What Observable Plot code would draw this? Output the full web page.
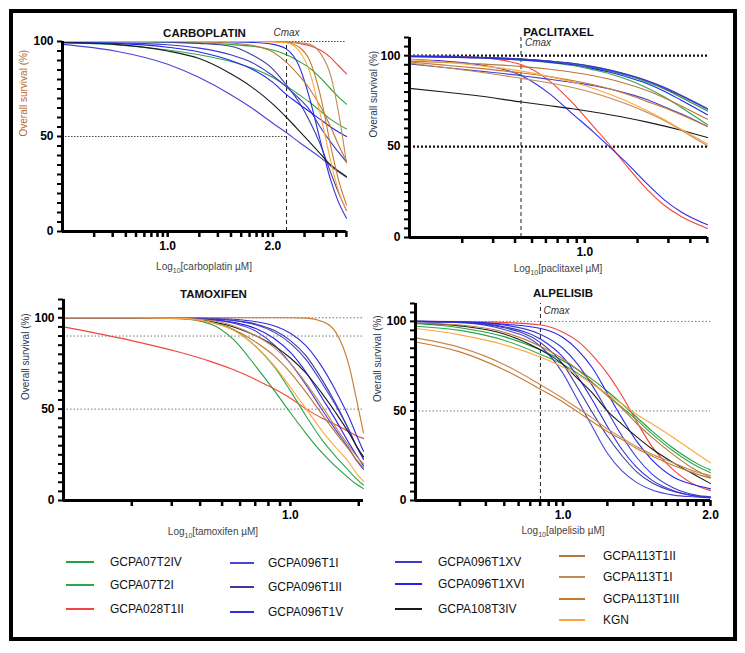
<!DOCTYPE html>
<html><head><meta charset="utf-8">
<script src="https://cdn.jsdelivr.net/npm/d3@7"></script>
<script src="https://cdn.jsdelivr.net/npm/@observablehq/plot@0.6"></script>
<style>
body{margin:0;background:#fff;font-family:"Liberation Sans",Arial,Helvetica,sans-serif;}
#wrap{position:relative;width:745px;height:653px;overflow:hidden;background:#fff;}
#frame{position:absolute;left:9px;top:9px;width:728px;height:632px;border:4px solid #000;box-sizing:border-box;}
.panel{position:absolute;}
.xlab{position:absolute;font-size:10px;color:#444;transform:translate(-50%,-50%);white-space:nowrap;}
.xlab sub{font-size:7px;}
.legline{position:absolute;}
.legtext{position:absolute;font-size:12px;color:#111;transform:translateY(-50%);white-space:nowrap;line-height:14px;}
</style></head>
<body><div id="wrap"><div id="frame"></div></div>
<script>
// ---------------- data ----------------
const series = ["GCPA07T2IV","GCPA07T2I","GCPA028T1II","GCPA096T1I","GCPA096T1II","GCPA096T1V","GCPA096T1XV","GCPA096T1XVI","GCPA108T3IV","GCPA113T1II","GCPA113T1I","GCPA113T1III","KGN"];
const colors = ["#22a03a","#2ea84c","#f2453d","#4a44d8","#3c3a9e","#2f2fe0","#3a3ad0","#2424ec","#1a1a1a","#b9763a","#c48a55","#c67a2e","#ffa640"];

// CARBOPLATIN (log10 µM)
const carboX = [0, 0.5, 1.0, 1.3, 1.6, 1.8, 2.0, 2.13, 2.25, 2.35, 2.45, 2.55, 2.62, 2.7];
const carboY = [
  [100, 100, 99.6, 99.2, 98.4, 97.5, 95.5, 93, 89.5, 86, 81, 75, 71, 67],
  [99.3, 98.3, 95.5, 93, 89.5, 86, 81, 76.5, 72, 68, 63.5, 59, 56.5, 54],
  [100, 100, 100, 100, 100, 100, 99.9, 99.7, 99, 97.8, 95.5, 91.5, 87.5, 83],
  [98.5, 95, 88, 81, 72, 65, 57, 52, 47, 43, 39, 34.5, 31.5, 28.5],
  [100, 100, 99.6, 99, 97.5, 93, 85.5, 77, 68, 58, 46, 31, 21, 11],
  [100, 100, 100, 100, 99.8, 99.5, 98.5, 96, 87, 70, 48, 27, 16, 7],
  [99.5, 99.3, 98.3, 96.5, 93, 89, 82, 76, 70, 64, 55, 47, 42, 36.5],
  [99.5, 99, 97, 94.5, 90, 85.5, 78.5, 72, 67, 63, 59, 55, 52.5, 50],
  [99.5, 98.5, 95, 91, 83, 76, 67, 60, 53, 47, 41, 35, 32, 29],
  [100, 100, 100, 99.8, 99.2, 98, 94.5, 89, 82, 75, 66, 55, 46, 37],
  [100, 100, 100, 100, 100, 100, 100, 99.8, 99.3, 98.5, 94, 82, 64, 36],
  [100, 100, 100, 100, 100, 100, 100, 99.5, 97, 90, 72, 45, 28, 14],
  [100, 100, 100, 100, 100, 100, 99.8, 99.3, 95, 84, 62, 37, 22, 11]
];
const carboCmax = 2.13;

// PACLITAXEL
const pacliX = [0, 0.2, 0.4, 0.64, 0.8, 0.93, 1.05, 1.15, 1.25, 1.35, 1.45, 1.55, 1.7];
const pacliY = [
  [99.7, 99.4, 99, 98, 96.8, 95.3, 93.3, 91.3, 88.8, 85.7, 81.8, 77, 69.5],
  [99.6, 99.3, 98.8, 97.5, 96.2, 94.6, 92.2, 89.8, 86.6, 82.5, 77.5, 71.5, 62],
  [100, 99.8, 99, 95, 86, 74, 61, 50, 38, 27, 18, 11.5, 5],
  [95.5, 93.5, 91.5, 89, 87, 85.3, 83.5, 81.5, 79, 76, 72, 68, 61],
  [99.7, 99.5, 99.1, 98.2, 97.1, 95.8, 94, 92, 89.5, 86.5, 82.8, 78.3, 71],
  [98, 97, 95, 89, 79, 68, 58, 49, 40, 30, 21, 14, 7],
  [99.6, 99.4, 99, 98.1, 97, 95.7, 93.8, 91.8, 89.2, 86.2, 82.4, 77.8, 70.5],
  [99.5, 99.2, 98.7, 97.6, 96.4, 95, 92.9, 90.7, 88, 84.8, 80.6, 75.5, 67.5],
  [82, 80, 77.8, 74.5, 72.5, 70.8, 69, 67.4, 65.6, 63.6, 61.4, 59, 55],
  [97, 96.3, 95.5, 94, 92.5, 90.9, 89, 86.9, 84.2, 81, 77, 72.3, 65],
  [96, 93.5, 91, 87.5, 85, 82.5, 79.5, 76.5, 73, 69, 64.5, 59, 50.5],
  [96.5, 94.8, 93, 90.5, 88.5, 86.3, 84, 81.5, 78.5, 75, 71.5, 67.5, 61],
  [98, 96.5, 94.5, 91.5, 88.5, 85.5, 82, 78.5, 74.5, 70, 65, 59.5, 51.5]
];
const pacliCmax = 0.636;

// TAMOXIFEN
const tamoX = [0, 0.3, 0.5, 0.65, 0.75, 0.85, 0.93, 1.0, 1.07, 1.14, 1.2, 1.26, 1.29, 1.322];
const tamoY = [
  [100, 100, 99.8, 96.5, 88, 73, 60, 48, 36.5, 26, 18.5, 12, 9, 6.5],
  [100, 100, 99.8, 98, 93.5, 84, 73, 60, 46, 33, 24, 16, 12, 8.5],
  [95, 87.5, 81.5, 76, 71.5, 66, 61, 56, 50, 45, 41.5, 37.5, 35.5, 34],
  [100, 100, 99.8, 99, 97, 92.5, 85, 75, 63, 49.5, 38.5, 28, 22, 17],
  [100, 100, 100, 99.5, 98.5, 96.5, 93, 87.5, 79, 66, 53, 38, 30, 23],
  [100, 100, 100, 99.7, 99.2, 97.8, 95.5, 91.5, 84.5, 73, 60, 45, 36, 27],
  [100, 100, 100, 99.5, 98.5, 96, 92, 86, 77, 64, 52, 38, 30, 22.5],
  [100, 100, 99.8, 99, 97.5, 94, 88.5, 81, 70, 56, 44, 31, 25, 19],
  [100, 100, 99.7, 98, 95, 90, 84.5, 78, 69.5, 58.5, 48, 36.5, 30, 24],
  [100, 100, 99.5, 97.5, 93.5, 86.5, 79, 70, 59, 47, 37, 27.5, 22.5, 18],
  [100, 100, 99.6, 98.5, 95.5, 90, 83.5, 75, 64, 51.5, 40, 29.5, 24.5, 20],
  [100, 100, 100, 100, 100, 100, 100, 100, 99.8, 98, 92, 73, 56, 37],
  [100, 100, 99.8, 97.5, 93, 84, 73.5, 62, 50, 38, 29, 20.5, 15, 10.5]
];

// ALPELISIB
const alpeX = [0, 0.3, 0.6, 0.85, 1.0, 1.1, 1.2, 1.3, 1.4, 1.5, 1.6, 1.75, 1.9, 2.0];
const alpeY = [
  [98.8, 96.5, 91.5, 84, 78, 73, 67.5, 61, 54, 46.5, 39, 29, 21, 17],
  [97.3, 95, 89.5, 81.5, 76, 71, 65.5, 59, 52, 45, 37.5, 27.5, 19.5, 15.5],
  [100, 99.9, 99.4, 98, 94, 89, 81, 71, 58.5, 44, 30.5, 17, 8.5, 5.5],
  [99.8, 99.3, 95.5, 86, 71, 56, 41, 26.5, 16.5, 10, 6, 3, 2, 1.5],
  [100, 99.5, 96.5, 88, 76, 63, 49, 36, 25, 16, 10, 5, 2.5, 1.5],
  [100, 99.6, 97, 90, 80, 69, 56, 41.5, 28.5, 18.5, 11.5, 5.5, 2.5, 1.5],
  [100, 99.7, 98, 92.7, 85, 76, 64, 50, 36, 24, 15, 7, 3, 2],
  [100, 99.8, 98.5, 96, 91, 84, 74, 60, 46, 33, 23, 13, 8.5, 6.5],
  [99, 97.5, 93, 84, 76, 68, 60, 50, 42.5, 35.5, 29, 21, 14, 9.5],
  [99, 98, 94, 86, 79, 73, 66, 58.5, 51.5, 43, 35.5, 25.5, 17, 13],
  [90.8, 85.5, 76, 64.5, 57, 51.5, 46, 40, 35, 30, 26, 21, 16, 14],
  [88.5, 83, 73, 62, 55, 49.5, 44, 38.5, 34, 29, 25, 19.5, 15, 12.5],
  [96, 92.5, 87, 80, 74.5, 70, 65, 59.5, 54, 48, 43, 35, 26.5, 21]
];
const alpeCmax = 0.847;

// axis tick labels
const yMajor = [0, 50, 100];
const yMajorLabels = ["0", "50", "100"];
const xMajor = [1, 2];
const xMajorLabels = ["1.0", "2.0"];
const mantissas = [2, 3, 4, 5, 6, 7, 8, 9];

// legend layout (columns of series indices)
const legendCols = [[0, 1, 2], [3, 4, 5], [6, 7, 8], [9, 10, 11, 12]];

// ---------------- drawing ----------------
const FONT = '"Liberation Sans", Arial, Helvetica, sans-serif';
const wrap = document.getElementById("wrap");

function rows(xs, ys) {
  return ys.flatMap((arr, i) => arr.map((v, j) => ({series: series[i], x: xs[j], y: v})));
}
function logTicks(maxV) {
  const t = [];
  for (let d = 0; d <= Math.ceil(maxV); d++) {
    if (d > 0 && d <= maxV + 1e-6) t.push(d);
    for (const m of mantissas) {
      const v = d + Math.log10(m);
      if (v <= maxV + 1e-3) t.push(v);
    }
  }
  return t;
}
function xFmt(d) {
  const i = xMajor.findIndex(v => Math.abs(v - d) < 1e-9);
  return i >= 0 ? xMajorLabels[i] : "";
}
function yFmt(d) {
  const i = yMajor.findIndex(v => Math.abs(v - d) < 1e-9);
  return i >= 0 ? yMajorLabels[i] : "";
}

function panel(o) {
  const marks = [];
  for (const r of o.refs) marks.push(Plot.ruleY([r], {y: "y", x1: "x1", x2: "x2", stroke: r.stroke, strokeWidth: r.w, strokeDasharray: r.dash}));
  if (o.cmax != null) marks.push(Plot.ruleX([{x: o.cmax}], {x: "x", y1: 0, y2: o.cmaxTop, stroke: "#222", strokeWidth: 1, strokeDasharray: "4,3"}));
  marks.push(Plot.line(rows(o.xs, o.ys), {x: "x", y: "y", z: "series", stroke: "series", strokeWidth: 1.1, curve: "monotone-x"}));
  marks.push(Plot.ruleX([o.xDomain[0]], {strokeWidth: 3, stroke: "#000"}));
  marks.push(Plot.ruleY([0], {strokeWidth: 3, stroke: "#000"}));
  marks.push(Plot.axisX({ticks: logTicks(o.xDomain[1]), tickFormat: xFmt, tickSize: 6, tickPadding: 4, strokeWidth: 2.5, label: null, fontSize: 12, fontWeight: "bold"}));
  marks.push(Plot.axisY({ticks: d3.range(0, o.yMax + 0.01, 5), tickFormat: yFmt, tickSize: 5, tickPadding: 4, strokeWidth: 2, label: null, fontSize: 12, fontWeight: "bold"}));
  marks.push(Plot.text([o.title], {frameAnchor: "top", dy: o.titleDy, fontWeight: "bold", fontSize: 11.5, fill: "#111"}));
  marks.push(Plot.text(["Overall survival (%)"], {frameAnchor: "left", rotate: -90, dx: o.ylabDx, fill: o.ylabColor, fontSize: 10, fontWeight: "normal"}));
  if (o.cmaxLabel) marks.push(Plot.text([{x: o.cmax, y: o.cmaxLabel.y}], {x: "x", y: o.cmaxLabel.y == null ? undefined : "y", frameAnchor: o.cmaxLabel.y == null ? "top" : undefined, dy: o.cmaxLabel.dy || 0, dx: o.cmaxLabel.dx || 0, textAnchor: o.cmaxLabel.anchor, text: () => "Cmax", fontStyle: "italic", fontSize: 10, fontWeight: "normal", fill: "#333"}));

  const svg = Plot.plot({
    width: o.width, height: o.height,
    marginLeft: o.ml, marginRight: o.mr, marginTop: o.mt, marginBottom: o.mb,
    x: {domain: o.xDomain},
    y: {domain: [0, o.yMax]},
    color: {domain: series, range: colors},
    style: {fontFamily: FONT, fontSize: "12px", color: "#000", background: "transparent", overflow: "visible"},
    marks
  });
  svg.classList.add("panel");
  svg.style.left = o.left + "px";
  svg.style.top = o.top + "px";
  svg.style.position = "absolute";
  wrap.appendChild(svg);

  const lab = document.createElement("div");
  lab.className = "xlab";
  lab.style.left = o.xlab.x + "px";
  lab.style.top = o.xlab.y + "px";
  lab.innerHTML = "Log<sub>10</sub>[" + o.xlab.drug + " µM]";
  wrap.appendChild(lab);
}

const dotted = (y, x1, x2, stroke, w, dash) => ({y, x1, x2, stroke, w, dash});

panel({left: 0, top: 0, width: 372, height: 280, ml: 62, mr: 26, mt: 41, mb: 49,
  xDomain: [0, 2.7], yMax: 100, xs: carboX, ys: carboY, title: "CARBOPLATIN", titleDy: -13,
  ylabDx: -39, ylabColor: "#b8692a",
  refs: [dotted(100, carboCmax, 2.7, "#444", 1, "1.5,1.5"), dotted(50, 0, carboCmax, "#444", 1, "1.5,1.5")],
  cmax: carboCmax, cmaxTop: 100, cmaxLabel: {dy: -13, anchor: "middle"},
  xlab: {x: 204, y: 267, drug: "carboplatin"}});

panel({left: 372, top: 0, width: 373, height: 280, ml: 37, mr: 38, mt: 37, mb: 43,
  xDomain: [0, 1.7], yMax: 110, xs: pacliX, ys: pacliY, title: "PACLITAXEL", titleDy: -10,
  ylabDx: -36, ylabColor: "#2d3650",
  refs: [dotted(100, 0, 1.7, "#111", 2.2, "2,2"), dotted(50, 0, 1.7, "#111", 2.2, "2,2")],
  cmax: pacliCmax, cmaxTop: 110, cmaxLabel: {y: 107.2, dx: 4, anchor: "start"},
  xlab: {x: 558, y: 269, drug: "paclitaxel"}});

panel({left: 0, top: 280, width: 372, height: 260, ml: 63, mr: 9, mt: 19, mb: 40,
  xDomain: [0, 1.322], yMax: 110, xs: tamoX, ys: tamoY, title: "TAMOXIFEN", titleDy: -10,
  ylabDx: -38, ylabColor: "#2d3650",
  refs: [dotted(100, 0, 1.322, "#777", 1, "1.5,2"), dotted(90, 0, 1.322, "#777", 1, "1.5,2"), dotted(50, 0, 1.322, "#777", 1, "1.5,2")],
  cmax: null,
  xlab: {x: 213, y: 532, drug: "tamoxifen"}});

panel({left: 372, top: 280, width: 373, height: 260, ml: 43, mr: 35, mt: 23, mb: 40,
  xDomain: [0, 2], yMax: 110, xs: alpeX, ys: alpeY, title: "ALPELISIB", titleDy: -15,
  ylabDx: -38, ylabColor: "#2d3650",
  refs: [dotted(100, 0, 2, "#777", 1, "1.5,2"), dotted(50, 0, 2, "#777", 1, "1.5,2")],
  cmax: alpeCmax, cmaxTop: 110, cmaxLabel: {y: 106, dx: 3, anchor: "start"},
  xlab: {x: 563, y: 531, drug: "alpelisib"}});

// ---------------- legend ----------------
const legPos = [
  {lx: 66, lw: 28, tx: 110, ys: [562, 585, 609], lh: 2},
  {lx: 230, lw: 24, tx: 268, ys: [563, 587, 612], lh: 2.5},
  {lx: 395, lw: 27, tx: 438, ys: [562, 584, 609], lh: 2},
  {lx: 559, lw: 26, tx: 603, ys: [556, 577, 599, 620], lh: 2}
];
legendCols.forEach((col, c) => {
  const p = legPos[c];
  col.forEach((si, r) => {
    const ln = document.createElement("div");
    ln.className = "legline";
    ln.style.cssText = `left:${p.lx}px;top:${p.ys[r] - p.lh / 2}px;width:${p.lw}px;height:${p.lh}px;background:${colors[si]};`;
    wrap.appendChild(ln);
    const tx = document.createElement("div");
    tx.className = "legtext";
    tx.style.left = p.tx + "px";
    tx.style.top = p.ys[r] + "px";
    tx.textContent = series[si];
    wrap.appendChild(tx);
  });
});
</script></body></html>
